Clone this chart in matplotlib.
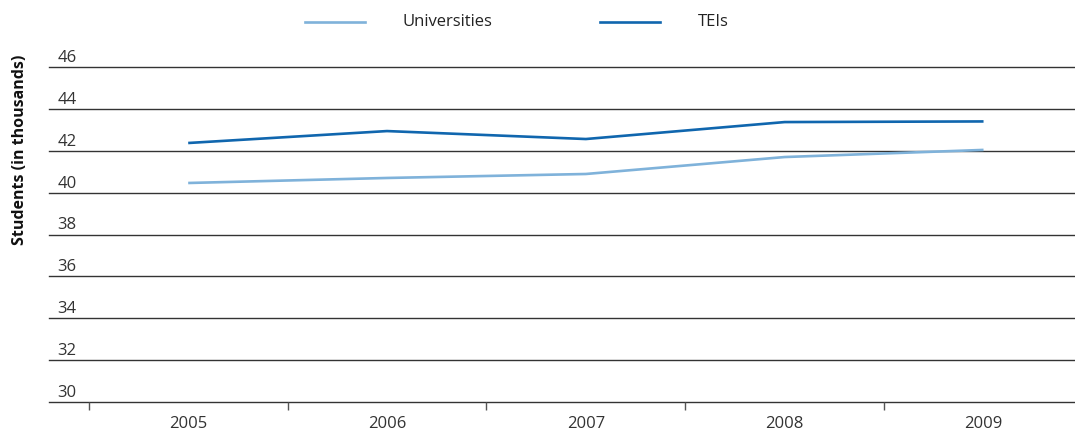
import matplotlib.pyplot as plt
from matplotlib.lines import Line2D

# data
years = ['2005', '2006', '2007', '2008', '2009']
universities = [40.46, 40.70, 40.89, 41.70, 42.04]
teis = [42.37, 42.94, 42.56, 43.37, 43.40]
y_ticks = [30, 32, 34, 36, 38, 40, 42, 44, 46]

uni_color = '#7fb2da'
tei_color = '#1066ae'

plt.rcParams['font.family'] = ['Open Sans', 'DejaVu Sans']

fig = plt.figure(figsize=(10.75, 4.34), dpi=100)
ax = fig.add_axes([49 / 1075, 32 / 434, 1026 / 1075, 335 / 434])

x = list(range(len(years)))
ax.plot(x, universities, color=uni_color, lw=1.9, solid_capstyle='butt')
ax.plot(x, teis, color=tei_color, lw=1.9, solid_capstyle='butt')

ax.set_xlim(-0.70, 4.46)
ax.set_ylim(30, 46)

# gridlines with labels sitting on top of them
for v in y_ticks:
    ax.axhline(v, color='#333333', lw=1, zorder=0, clip_on=False)
    ax.text(0.008, v + 0.05, str(v), transform=ax.get_yaxis_transform(),
            ha='left', va='bottom', fontsize=12, color='#333333')

ax.set_yticks([])
ax.set_xticks(x)
ax.set_xticklabels(years, fontsize=12, color='#333333')
ax.tick_params(axis='x', which='major', length=0, pad=10)
ax.set_xticks([-0.5, 0.5, 1.5, 2.5, 3.5], minor=True)
ax.tick_params(axis='x', which='minor', length=6, width=1, color='#555555', direction='out')
for s in ax.spines.values():
    s.set_visible(False)

fig.text(20 / 1075, 1 - 150 / 434, 'Students (in thousands)', rotation=90,
         ha='center', va='center', fontsize=11.5, fontweight='bold', color='#111111')

# legend
ly = 1 - 22 / 434
fig.add_artist(Line2D([305 / 1075, 365 / 1075], [ly, ly], color=uni_color, lw=1.9))
fig.text(402 / 1075, ly, 'Universities', ha='left', va='center', fontsize=12, color='#222222')
fig.add_artist(Line2D([600 / 1075, 660 / 1075], [ly, ly], color=tei_color, lw=1.9))
fig.text(698 / 1075, ly, 'TEIs', ha='left', va='center', fontsize=12, color='#222222')

fig.savefig('out.png', dpi=100)
